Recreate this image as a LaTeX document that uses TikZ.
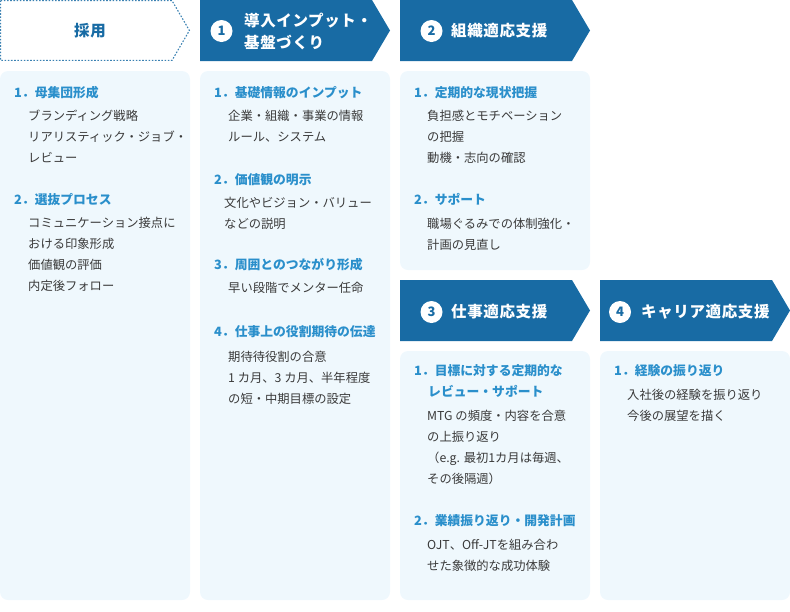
\documentclass[tikz,border=0pt]{standalone}
\usepackage{fontspec}
\setmainfont{Noto Sans CJK JP}
\newfontfamily\headfont{Noto Sans CJK JP}[LetterSpace=4]
\usepackage{tikz}

\definecolor{hdblue}{HTML}{186BA4}
\definecolor{itemblue}{HTML}{2A8FCB}
\definecolor{paneltint}{HTML}{EFF8FD}
\definecolor{bodygray}{HTML}{3A3A3A}

\tikzset{
  header/.style={fill=hdblue},
  header dotted/.style={draw=hdblue!85,line width=1.1pt,dash pattern=on 1.6pt off 1.6pt},
  panel/.style={fill=paneltint,rounded corners=8pt},
  numcircle/.style={circle,fill=white,minimum size=22pt,inner sep=0pt,text=hdblue,font=\fontsize{13}{13}\selectfont\bfseries},
  headtext/.style={anchor=west,inner sep=0pt,text=white,align=left,font=\headfont\fontsize{15.5}{22}\selectfont\bfseries},
  itemhead/.style={anchor=base west,inner sep=0pt,text=itemblue,align=left,font=\fontsize{12.8}{21}\selectfont\bfseries},
  itembody/.style={anchor=base west,inner sep=0pt,text=bodygray,align=left,font=\fontsize{12.3}{21}\selectfont}
}

\begin{document}
\begin{tikzpicture}[x=1pt,y=-1pt]
        \pgfmathsetmacro{\w}{190}
        \pgfmathsetmacro{\h}{61}
        \pgfmathsetmacro{\n}{18}

        \useasboundingbox (0,0) rectangle (790,611);

        % headers
        \draw[header dotted] (0.6,0.6) -- (\w-\n,0.6) -- (\w-0.6,\h/2) -- (\w-\n,\h-0.6) -- (0.6,\h-0.6) -- cycle;
        \fill[header] (200,0) -- (200+\w-\n,0) -- (200+\w,\h/2) -- (200+\w-\n,\h) -- (200,\h) -- cycle;
        \fill[header] (400,0) -- (400+\w-\n,0) -- (400+\w,\h/2) -- (400+\w-\n,\h) -- (400,\h) -- cycle;
        \fill[header] (400,280) -- (400+\w-\n,280) -- (400+\w,280+\h/2) -- (400+\w-\n,280+\h) -- (400,280+\h) -- cycle;
        \fill[header] (600,280) -- (600+\w-\n,280) -- (600+\w,280+\h/2) -- (600+\w-\n,280+\h) -- (600,280+\h) -- cycle;

        % panels
        \fill[panel] (0,71) rectangle (190,600);
        \fill[panel] (200,71) rectangle (390,600);
        \fill[panel] (400,71) rectangle (590,270);
        \fill[panel] (400,351) rectangle (590,600);
        \fill[panel] (600,351) rectangle (790,600);

        % header labels
        \node[text=hdblue,font=\headfont\fontsize{15.5}{15.5}\selectfont\bfseries] (H0) at (90,30.5) {採用};

        \node[numcircle] (C1) at (221.5,31) {1};
        \node[headtext] (H1) at (244,31) {導入インプット・\\基盤づくり};

        \node[numcircle] (C2) at (431.5,31) {2};
        \node[headtext] (H2) at (451,31) {組織適応支援};

        \node[numcircle] (C3) at (431.5,312) {3};
        \node[headtext] (H3) at (451,312) {仕事適応支援};

        \node[numcircle] (C4) at (620,312) {4};
        \node[headtext] (H4) at (641,312) {キャリア適応支援};

        % column 0 : recruiting (base = last line)
        \node[itemhead] (R1) at (14,97.5) {1．母集団形成};
        \node[itembody] (R1b) at (28,162) {ブランディング戦略\\リアリスティック・ジョブ・\\レビュー};
        \node[itemhead] (R2) at (14,204.5) {2．選抜プロセス};
        \node[itembody] (R2b) at (28,290) {コミュニケーション接点に\\おける印象形成\\価値観の評価\\内定後フォロー};

        % column 1
        \node[itemhead] (A1) at (214,97.5) {1．基礎情報のインプット};
        \node[itembody] (A1b) at (228,141) {企業・組織・事業の情報\\ルール、システム};
        \node[itemhead] (A2) at (214,184.5) {2．価値観の明示};
        \node[itembody] (A2b) at (224,228) {文化やビジョン・バリュー\\などの説明};
        \node[itemhead] (A3) at (214,269.5) {3．周囲とのつながり形成};
        \node[itembody] (A3b) at (228,292) {早い段階でメンター任命};
        \node[itemhead] (A4) at (214,336.5) {4．仕事上の役割期待の伝達};
        \node[itembody] (A4b) at (228,403) {期待待役割の合意\\1 カ月、3 カ月、半年程度\\の短・中期目標の設定};

        % column 2
        \node[itemhead] (B1) at (414,97.5) {1．定期的な現状把握};
        \node[itembody] (B1b) at (427,162) {負担感とモチベーション\\の把握\\動機・志向の確認};
        \node[itemhead] (B2) at (414,204.5) {2．サポート};
        \node[itembody] (B2b) at (427,249) {職場ぐるみでの体制強化・\\計画の見直し};

        % column 2, lower
        \node[itemhead] (D1) at (414,396.5) {1．目標に対する定期的な\\\hspace*{14pt}レビュー・サポート};
        \node[itembody] (D1b) at (427,483) {MTG の頻度・内容を合意\\の上振り返り\\（e.g. 最初1カ月は毎週、\\その後隔週）};
        \node[itemhead] (D2) at (414,525.5) {2．業績振り返り・開発計画};
        \node[itembody] (D2b) at (427,570) {OJT、Off-JTを組み合わ\\せた象徴的な成功体験};

        % column 3, lower
        \node[itemhead] (E1) at (614,375.5) {1．経験の振り返り};
        \node[itembody] (E1b) at (627,420) {入社後の経験を振り返り\\今後の展望を描く};

    \end{tikzpicture}
\end{document}
